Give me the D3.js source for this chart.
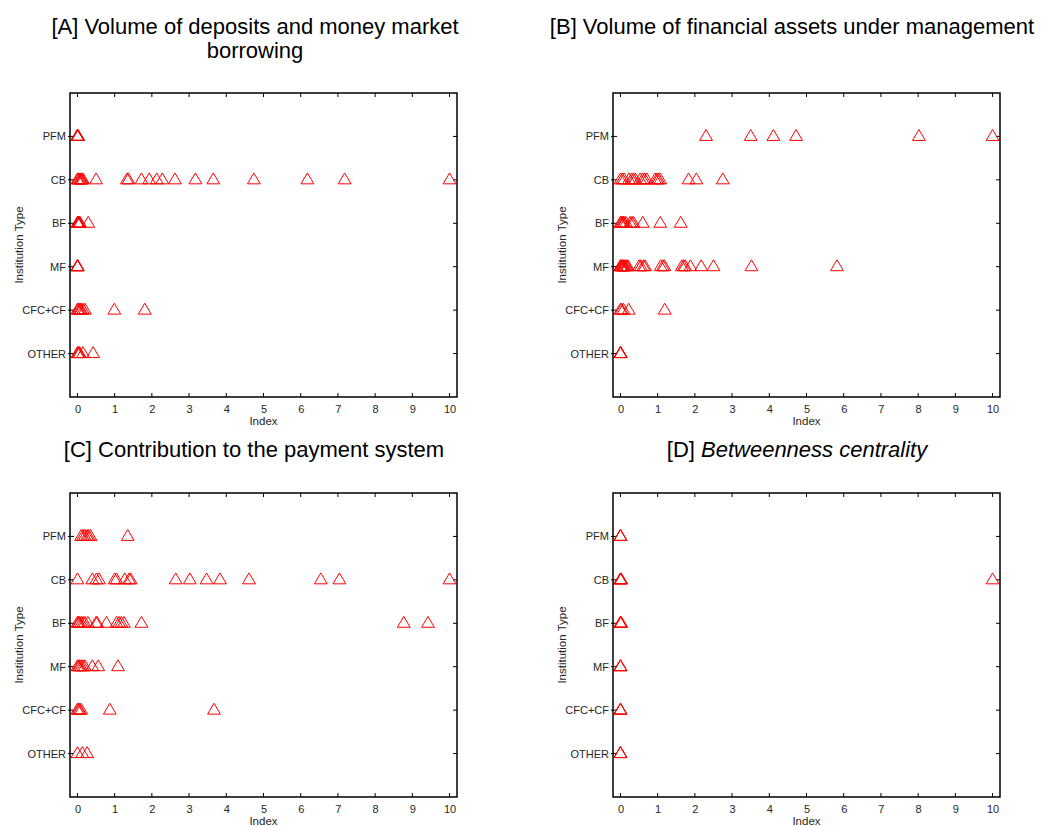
<!DOCTYPE html>
<html>
<head>
<meta charset="utf-8">
<script src="https://cdn.jsdelivr.net/npm/d3@7"></script>
<style>
  html, body { margin: 0; padding: 0; background: #fff; }
  svg { display: block; font-family: Arial, "Liberation Sans", Helvetica, sans-serif; }
</style>
</head>
<body>
<svg id="fig" width="1048" height="826"></svg>
<script>
// Institution types, listed top to bottom on the vertical axis
const categories = ["PFM", "CB", "BF", "MF", "CFC+CF", "OTHER"];
const xTicks = [0, 1, 2, 3, 4, 5, 6, 7, 8, 9, 10];

// [A] Volume of deposits and money market borrowing (rows follow `categories`)
const depositsIndex = [
  [0, 0, 0, 0, 0.01, 0.02],
  [0, 0.02, 0.05, 0.08, 0.1, 0.12, 0.15, 0.5, 1.33, 1.37, 1.72, 1.93, 2.13, 2.28, 2.62, 3.17, 3.65, 4.74, 6.18, 7.18, 10],
  [0, 0.01, 0.02, 0.03, 0.05, 0.07, 0.29],
  [0, 0, 0, 0.01],
  [0, 0.02, 0.05, 0.08, 0.1, 0.15, 0.2, 0.99, 1.81],
  [0, 0.02, 0.04, 0.06, 0.15, 0.42]
];

// [B] Volume of financial assets under management
const assetsIndex = [
  [2.3, 3.5, 4.11, 4.72, 8.02, 10],
  [0, 0.05, 0.1, 0.23, 0.3, 0.35, 0.4, 0.53, 0.6, 0.65, 0.71, 0.93, 0.98, 1.02, 1.07, 1.83, 2.04, 2.75],
  [0, 0.02, 0.05, 0.08, 0.1, 0.15, 0.26, 0.31, 0.35, 0.6, 1.07, 1.62],
  [0, 0, 0.02, 0.04, 0.06, 0.08, 0.1, 0.12, 0.15, 0.18, 0.2, 0.5, 0.55, 0.62, 0.66, 1.08, 1.14, 1.18, 1.65, 1.7, 1.74, 1.88, 2.17, 2.5, 3.52, 5.82],
  [0, 0.03, 0.08, 0.22, 1.19],
  [0, 0, 0, 0.01]
];

// [C] Contribution to the payment system
const paymentIndex = [
  [0.1, 0.15, 0.2, 0.26, 0.3, 0.35, 1.35],
  [0, 0.4, 0.51, 0.58, 1.0, 1.05, 1.27, 1.39, 1.43, 2.64, 3.02, 3.47, 3.83, 4.61, 6.54, 7.04, 10],
  [0, 0.03, 0.05, 0.1, 0.15, 0.2, 0.28, 0.5, 0.53, 0.78, 1.05, 1.12, 1.18, 1.25, 1.72, 8.77, 9.42],
  [0, 0.03, 0.06, 0.1, 0.15, 0.2, 0.4, 0.56, 1.09],
  [0, 0.03, 0.06, 0.1, 0.87, 3.67],
  [0, 0.13, 0.26]
];

// [D] Betweenness centrality
const betweennessIndex = [
  [0, 0, 0],
  [0, 0, 0.01, 0.02, 10],
  [0, 0, 0.01, 0.02],
  [0, 0, 0],
  [0, 0, 0],
  [0, 0, 0]
];

const panels = [
  { key: "A", values: depositsIndex, left: 70, top: 93, titleY: -59,
    title: [{ t: "[A] Volume of deposits and money market" }, { t: "borrowing" }], titleX: 255 },
  { key: "B", values: assetsIndex, left: 613, top: 93, titleY: -59,
    title: [{ t: "[B] Volume of financial assets under management" }], titleX: 792 },
  { key: "C", values: paymentIndex, left: 70, top: 493, titleY: -36,
    title: [{ t: "[C] Contribution to the payment system" }], titleX: 254 },
  { key: "D", values: betweennessIndex, left: 613, top: 493, titleY: -36,
    title: [{ t: "[D] ", italic: false }, { t: "Betweenness centrality", italic: true }], titleX: 797, inline: true }
];

const plotW = 387, plotH = 304;
const red = "#ff0000";
const labelFont = "Arial, 'Liberation Sans', sans-serif";

// Open triangle marker, apex up
const triangleMark = {
  draw(ctx, size) {
    const h = Math.sqrt(size);
    ctx.moveTo(0, -0.6 * h);
    ctx.lineTo(0.6 * h, 0.42 * h);
    ctx.lineTo(-0.6 * h, 0.42 * h);
    ctx.closePath();
  }
};
const marker = d3.symbol().type(triangleMark).size(114);

const svg = d3.select("#fig");

panels.forEach(p => {
  const g = svg.append("g").attr("transform", `translate(${p.left},${p.top})`);

  const x = d3.scaleLinear().domain([-0.2, 10.2]).range([0, plotW]);
  // categories placed at 6..1 from top to bottom, with a step of margin at each end
  const y = d3.scaleLinear().domain([0, categories.length + 1]).range([plotH, 0]);
  const catY = i => y(categories.length - i);

  // tick labels along the bottom
  const xAxis = d3.axisBottom(x).tickValues(xTicks).tickFormat(d3.format("d")).tickSize(0).tickPadding(8);
  const xa = g.append("g").attr("transform", `translate(0,${plotH})`).call(xAxis);
  xa.select(".domain").remove();
  xa.selectAll("text").attr("font-size", 11).attr("fill", "#262626").attr("font-family", labelFont);

  // category labels on the left
  const yAxis = d3.axisLeft(y).tickValues(d3.range(1, categories.length + 1))
    .tickFormat(v => categories[categories.length - v]).tickSize(0).tickPadding(4);
  const ya = g.append("g").call(yAxis);
  ya.select(".domain").remove();
  ya.selectAll("text").attr("font-size", 11).attr("fill", "#262626").attr("font-family", labelFont);

  // inward tick marks on all four sides
  const tk = g.append("g").attr("stroke", "#000").attr("stroke-width", 1);
  xTicks.forEach(v => {
    tk.append("line").attr("x1", x(v)).attr("x2", x(v)).attr("y1", plotH).attr("y2", plotH - 4);
    tk.append("line").attr("x1", x(v)).attr("x2", x(v)).attr("y1", 0).attr("y2", 4);
  });
  categories.forEach((c, i) => {
    tk.append("line").attr("x1", -2).attr("x2", 4).attr("y1", catY(i)).attr("y2", catY(i));
    tk.append("line").attr("x1", plotW).attr("x2", plotW - 4).attr("y1", catY(i)).attr("y2", catY(i));
  });

  // markers
  const pts = [];
  p.values.forEach((row, i) => row.forEach(v => pts.push({ v, i })));
  g.append("g").selectAll("path").data(pts).join("path")
    .attr("d", marker)
    .attr("transform", d => `translate(${x(d.v)},${catY(d.i) - 0.5})`)
    .attr("fill", "none").attr("stroke", red).attr("stroke-width", 1);

  // frame
  g.append("rect").attr("x", 0).attr("y", 0).attr("width", plotW).attr("height", plotH)
    .attr("fill", "none").attr("stroke", "#000").attr("stroke-width", 1.5);

  // axis titles
  g.append("text").attr("x", plotW / 2).attr("y", plotH + 28)
    .attr("text-anchor", "middle").attr("font-size", 11.5).attr("fill", "#262626").text("Index");
  g.append("text").attr("transform", `translate(${-47},${plotH / 2}) rotate(-90)`)
    .attr("text-anchor", "middle").attr("font-size", 11.5).attr("fill", "#262626").text("Institution Type");

  // panel title
  const tx = p.titleX - p.left;
  if (p.inline) {
    const t = g.append("text").attr("x", tx).attr("y", p.titleY).attr("text-anchor", "middle")
      .attr("font-size", 22).attr("fill", "#000");
    p.title.forEach(s => t.append("tspan").attr("font-style", s.italic ? "italic" : "normal").text(s.t));
  } else {
    p.title.forEach((s, k) => {
      g.append("text").attr("x", tx).attr("y", p.titleY + k * 24)
        .attr("text-anchor", "middle").attr("font-size", 22).attr("fill", "#000").text(s.t);
    });
  }
});
</script>
</body>
</html>
